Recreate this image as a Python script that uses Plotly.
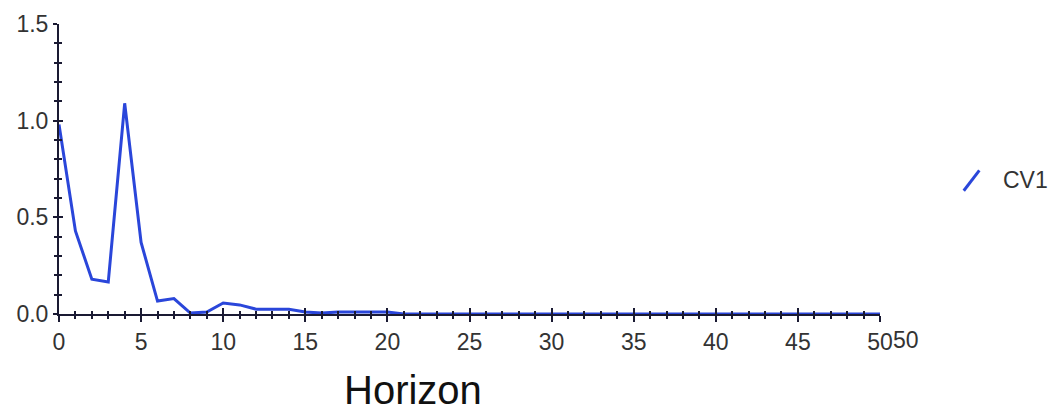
import plotly.graph_objects as go

horizon = list(range(0, 51))
cv1_head = [0.98, 0.43, 0.18, 0.165, 1.09, 0.37, 0.067, 0.08, 0.005, 0.01,
            0.057, 0.047, 0.025, 0.025, 0.025, 0.01, 0.005, 0.01, 0.01, 0.01, 0.01]
cv1 = cv1_head + [0.0] * (len(horizon) - len(cv1_head))
series_name = "CV1"
x_title = "Horizon"

line_color = "rgb(42,70,218)"
axis_color = "#1a1a33"
label_color = "#333333"
font_family = "Liberation Sans, Arial, sans-serif"
tick_size = 23

fig = go.Figure()
fig.add_trace(go.Scatter(x=horizon, y=cv1, mode="lines", name=series_name,
                         line=dict(color=line_color, width=3), showlegend=False))

common_x = dict(range=[0, 50], tickmode="linear", tick0=0, dtick=5,
                showgrid=False, zeroline=False)
common_y = dict(range=[0, 1.5], tickmode="linear", tick0=0, dtick=0.5,
                showgrid=False, zeroline=False)

fig.update_layout(
    width=1054, height=417,
    margin=dict(l=59, r=174, t=24, b=103),
    plot_bgcolor="white", paper_bgcolor="white",
    font=dict(family=font_family, color=label_color, size=tick_size),
    xaxis=dict(**common_x, showline=True, linecolor=axis_color, linewidth=2,
               ticks="outside", ticklen=6, tickwidth=2, tickcolor=axis_color,
               minor=dict(dtick=1, ticks="outside", ticklen=3, tickwidth=1.5,
                          tickcolor=axis_color),
               tickfont=dict(size=tick_size, color=label_color)),
    yaxis=dict(**common_y, tickformat=".1f", showline=True,
               linecolor=axis_color, linewidth=2,
               ticks="outside", ticklen=4, tickwidth=2, tickcolor=axis_color,
               minor=dict(dtick=0.1, ticks="outside", ticklen=3, tickwidth=1.5,
                          tickcolor=axis_color),
               tickfont=dict(size=tick_size, color=label_color)),
    # overlay axes to make ticks cross the axis lines
    xaxis2=dict(**common_x, overlaying="x", anchor="y", side="bottom",
                showline=False, showticklabels=False,
                ticks="inside", ticklen=6, tickwidth=2, tickcolor=axis_color,
                minor=dict(dtick=1, ticks="inside", ticklen=3, tickwidth=1.5,
                           tickcolor=axis_color)),
    yaxis2=dict(**common_y, overlaying="y", anchor="x", side="left",
                showline=False, showticklabels=False,
                ticks="inside", ticklen=4, tickwidth=2, tickcolor=axis_color,
                minor=dict(dtick=0.1, ticks="inside", ticklen=3, tickwidth=1.5,
                           tickcolor=axis_color)),
)
# invisible trace to activate overlay axes
fig.add_trace(go.Scatter(x=[horizon[0]], y=[cv1[-1]], xaxis="x2", yaxis="y2",
                         mode="markers", marker=dict(opacity=0),
                         showlegend=False, hoverinfo="skip"))

# stray duplicated end label
fig.add_annotation(x=50, y=0, xref="x", yref="y", text="50", showarrow=False,
                   xanchor="left", yanchor="middle", xshift=11, yshift=-26,
                   font=dict(size=tick_size, color=label_color))
# axis title
fig.add_annotation(x=0.431, y=-0.263, xref="paper", yref="paper", text=x_title,
                   showarrow=False, xanchor="center", yanchor="middle",
                   font=dict(size=40, color="#111111"))
# legend
fig.add_shape(type="line", xref="paper", yref="paper",
              x0=1.102, y0=0.425, x1=1.121, y1=0.495,
              line=dict(color=line_color, width=3))
fig.add_annotation(x=1.147, y=0.462, xref="paper", yref="paper", text=series_name,
                   showarrow=False, xanchor="left", yanchor="middle",
                   font=dict(size=tick_size, color=label_color))

fig.write_html("out.html")
